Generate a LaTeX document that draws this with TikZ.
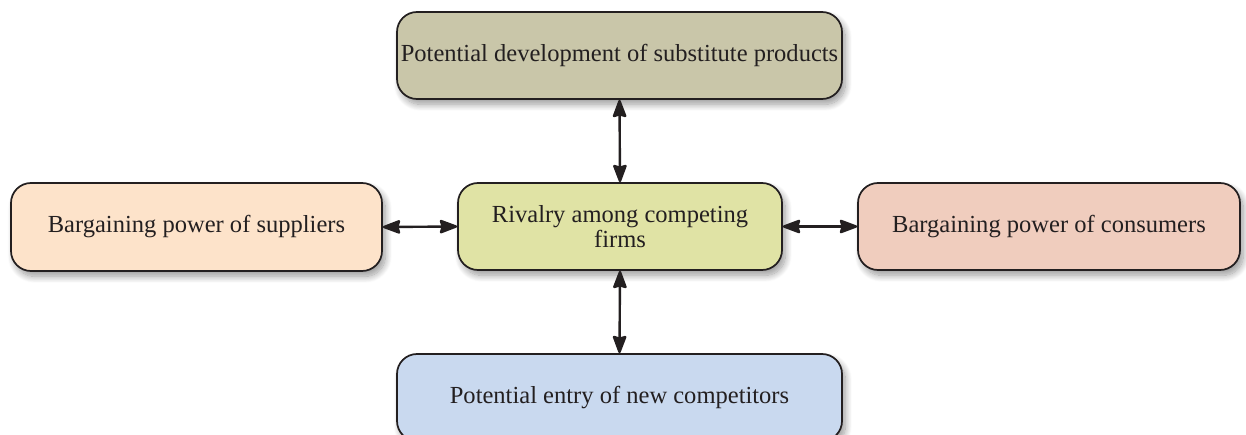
\documentclass[tikz,border=0pt]{standalone}
\usepackage{fontspec}
\setmainfont{Liberation Serif}
\usetikzlibrary{arrows.meta,shadows.blur}
\definecolor{topc}{HTML}{C9C6A9}
\definecolor{leftc}{HTML}{FDE3CA}
\definecolor{midc}{HTML}{E0E3A5}
\definecolor{rightc}{HTML}{F0CDBE}
\definecolor{botc}{HTML}{C9D9EF}
\definecolor{ink}{HTML}{231F20}
\begin{document}
\begin{tikzpicture}[x=0.75pt,y=-0.75pt,
  force/.style={draw=ink,line width=1.3pt,rounded corners=15pt,align=center,
    text=ink,font=\fontsize{18.4}{18.5}\selectfont,inner sep=0pt,
    blur shadow={shadow xshift=2.5pt,shadow yshift=-4pt,shadow blur steps=12,shadow blur extra rounding=3pt,shadow blur radius=5pt,shadow opacity=40}},
  link/.style={draw=ink,line width=1.8pt,{Stealth[length=15pt,width=11pt,inset=1.5pt,round]}-{Stealth[length=15pt,width=11pt,inset=1.5pt,round]}}]
\useasboundingbox (0,0) rectangle (1246,435);
\node[force,fill=topc,minimum width=333.75pt,minimum height=65.25pt] (sub) at (619.5,55.5) {Potential development of substitute products};
\node[force,fill=leftc,minimum width=278.25pt,minimum height=66pt] (sup) at (196.5,227) {Bargaining power of suppliers};
\node[force,fill=midc,minimum width=243pt,minimum height=65.25pt] (riv) at (620,226.5) {Rivalry among competing\\firms};
\node[force,fill=rightc,minimum width=286.5pt,minimum height=65.25pt] (con) at (1049,226.5) {Bargaining power of consumers};
\node[force,fill=botc,minimum width=333.75pt,minimum height=65.25pt] (ent) at (619.5,397.5) {Potential entry of new competitors};
\draw[link] (sub.south) -- (riv.north);
\draw[link] (sup.east) -- (riv.west);
\draw[link] (riv.east) -- (con.west);
\draw[link] (riv.south) -- (ent.north);
\end{tikzpicture}
\end{document}
